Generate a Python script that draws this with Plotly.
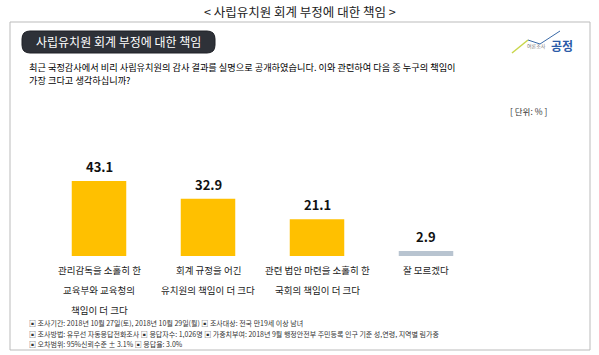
import plotly.graph_objects as go

categories = ["관리감독을 소홀히 한<br>교육부와 교육청의<br>책임이 더 크다",
              "회계 규정을 어긴<br>유치원의 책임이 더 크다",
              "관련 법안 마련을 소홀히 한<br>국회의 책임이 더 크다",
              "잘 모르겠다"]
values = [43.1, 32.9, 21.1, 2.9]
bar_colors = ["#FFC000", "#FFC000", "#FFC000", "#B8C4D0"]

title_text = "< 사립유치원 회계 부정에 대한 책임 >"
banner_text = "사립유치원 회계 부정에 대한 책임"
question_lines = ["최근 국정감사에서 비리 사립유치원의 감사 결과를 실명으로 공개하였습니다. 이와 관련하여 다음 중 누구의 책임이",
                  "가장 크다고 생각하십니까?"]
unit_text = "[ 단위: % ]"
footer_lines = ["▣ 조사기간: 2018년 10월 27일(토), 2018년 10월 29일(월) ▣ 조사대상: 전국 만19세 이상 남녀",
                "▣ 조사방법: 유무선 자동응답전화조사 ▣ 응답자수: 1,026명 ▣ 가중치부여: 2018년 9월 행정안전부 주민등록 인구 기준 성,연령, 지역별 림가중",
                "▣ 오차범위: 95%신뢰수준 ± 3.1% ▣ 응답율: 3.0%"]

W, H = 599, 355
FONT = "Noto Sans CJK KR"
xs = list(range(len(categories)))

def py(pix):
    return 1 - pix / H

def px(pix):
    return pix / W

fig = go.Figure()
fig.add_trace(go.Bar(x=xs, y=values, marker=dict(color=bar_colors, line=dict(width=0)),
                     width=0.5, hoverinfo="skip"))

annotations = []
for x, v in zip(xs, values):
    annotations.append(dict(x=x, y=v, xref="x", yref="y", text=f"<b>{v}</b>", showarrow=False,
                            xanchor="center", yanchor="bottom", yshift=3,
                            font=dict(size=13, color="#111111", family=FONT)))
for x, c in zip(xs, categories):
    for i, line in enumerate(c.split("<br>")):
        annotations.append(dict(x=x, y=0, xref="x", yref="y", text=line, showarrow=False,
                                xanchor="center", yanchor="middle", yshift=-14 - 20 * i,
                                font=dict(size=9.5, color="#1a1a1a", family=FONT)))

annotations.append(dict(x=0.5, y=py(12), xref="paper", yref="paper", text=title_text, showarrow=False,
                        xanchor="center", yanchor="middle",
                        font=dict(size=12.5, color="#222222", family=FONT)))
annotations.append(dict(x=px(118), y=py(42), xref="paper", yref="paper", text=banner_text, showarrow=False,
                        xanchor="center", yanchor="middle",
                        font=dict(size=12, color="white", family=FONT)))
for i, line in enumerate(question_lines):
    annotations.append(dict(x=px(27), y=py(67 + 13 * i), xref="paper", yref="paper", text=line,
                            showarrow=False, xanchor="left", yanchor="middle",
                            font=dict(size=9.2, color="#000000", family=FONT)))
annotations.append(dict(x=px(549), y=py(111), xref="paper", yref="paper", text=unit_text, showarrow=False,
                        xanchor="right", yanchor="middle", font=dict(size=8.5, color="#333333", family=FONT)))
for i, line in enumerate(footer_lines):
    annotations.append(dict(x=px(27), y=py(323 + 10.5 * i), xref="paper", yref="paper", text=line,
                            showarrow=False, xanchor="left", yanchor="middle",
                            font=dict(size=7, color="#333333", family=FONT)))
# logo text
annotations.append(dict(x=px(548), y=py(46), xref="paper", yref="paper", text="여론조사", showarrow=False,
                        xanchor="right", yanchor="middle", font=dict(size=5, color="#777777", family=FONT)))
annotations.append(dict(x=px(549), y=py(45), xref="paper", yref="paper", text="<b>공정</b>", showarrow=False,
                        xanchor="left", yanchor="middle", font=dict(size=12, color="#2B5BA8", family=FONT)))

shapes = [
    dict(type="rect", xref="paper", yref="paper", x0=px(10), x1=px(590), y0=py(350), y1=py(22),
         line=dict(color="#BBBBBB", width=1), fillcolor="rgba(0,0,0,0)", layer="below"),
    dict(type="path", xref="paper", yref="paper",
         path=f"M {px(30)},{py(31)} L {px(207)},{py(31)} Q {px(215)},{py(31)} {px(215)},{py(39)} "
              f"L {px(215)},{py(45)} Q {px(215)},{py(53)} {px(207)},{py(53)} L {px(30)},{py(53)} "
              f"Q {px(22)},{py(53)} {px(22)},{py(45)} L {px(22)},{py(39)} Q {px(22)},{py(31)} {px(30)},{py(31)} Z",
         fillcolor="#2E3138", line=dict(color="#1E2026", width=1), layer="below"),
    dict(type="path", xref="paper", yref="paper",
         path=f"M {px(512)},{py(53)} L {px(528)},{py(40)}",
         line=dict(color="#C8D64A", width=1.5)),
    dict(type="path", xref="paper", yref="paper",
         path=f"M {px(528)},{py(40)} L {px(540)},{py(44)} L {px(560)},{py(31)}",
         line=dict(color="#3A6AA8", width=1)),
]

fig.update_layout(
    width=W, height=H, margin=dict(l=0, r=0, t=0, b=0),
    paper_bgcolor="white", plot_bgcolor="white", showlegend=False,
    xaxis=dict(domain=[px(44.5), px(480.5)], range=[-0.5, 3.5], visible=False, fixedrange=True),
    yaxis=dict(domain=[py(256), py(169)], range=[0, 50], visible=False, fixedrange=True),
    annotations=annotations, shapes=shapes, bargap=0.5,
)

fig.write_html("out.html", config={"displayModeBar": False},
               post_script="document.body.style.margin='0';document.body.style.overflow='hidden';")
